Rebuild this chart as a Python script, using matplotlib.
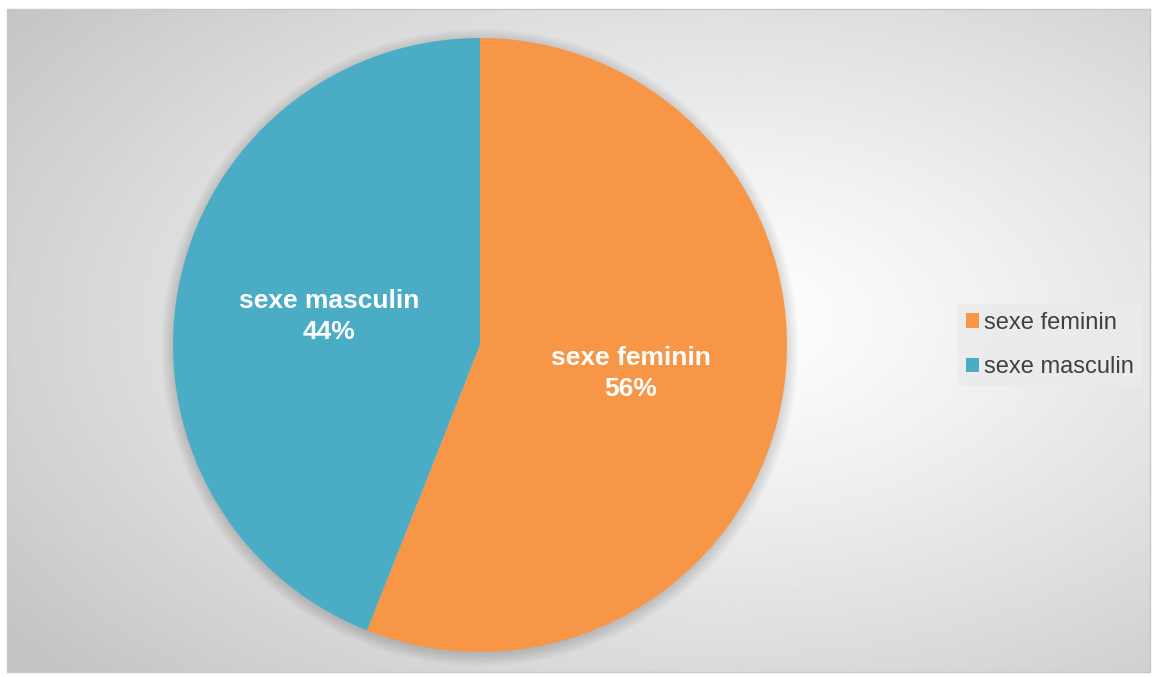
import numpy as np
import matplotlib.pyplot as plt
from matplotlib.patches import Rectangle, Circle

plt.rcParams['font.family'] = ['Liberation Sans', 'DejaVu Sans']

categories = ['sexe feminin', 'sexe masculin']
values = [56, 44]
colors = ['#F79646', '#4BACC6']

W, H = 1154, 677
fig = plt.figure(figsize=(W / 100, H / 100), dpi=100)
fig.patch.set_facecolor('white')

# fond : dégradé radial gris/blanc dans le cadre du graphique
bg = fig.add_axes([7 / W, 1 - 672 / H, (1150 - 7) / W, (672 - 9) / H])
yy, xx = np.mgrid[0:400, 0:700]
cx, cy = 700 * (720 - 7) / 1143, 400 * (320 - 9) / 663
d = np.sqrt(((xx - cx) / 700) ** 2 + ((yy - cy) / 400) ** 2) / 0.78
d = np.clip(d, 0, 1)
img = 1.0 - 0.23 * d ** 1.2
bg.imshow(img, cmap='gray', vmin=0, vmax=1, aspect='auto', interpolation='bilinear')
bg.set_axis_off()
fig.patches.append(Rectangle((7 / W, 1 - 672 / H), 1143 / W, 663 / H,
                             transform=fig.transFigure, fill=False,
                             edgecolor='#c8c8c8', linewidth=1))

r = 307
cxp, cyp = 480, 677 - 345
ax = fig.add_axes([(cxp - r) / W, (cyp - r) / H, 2 * r / W, 2 * r / H])

labels = [f'{c}\n{v}%' for c, v in zip(categories, values)]
wedges, texts = ax.pie(values, colors=colors, startangle=90, counterclock=False,
                       labels=labels, labeldistance=0.5, radius=1,
                       wedgeprops={'linewidth': 0},
                       textprops={'color': 'white', 'fontsize': 19,
                                  'fontweight': 'bold', 'ha': 'center',
                                  'va': 'center', 'multialignment': 'center'})
ax.set_xlim(-1, 1)
ax.set_ylim(-1, 1)
ax.set_aspect('equal')
ax.set_axis_off()

# ombre douce
for i in range(12):
    ax.add_patch(Circle((0.0, -0.008), 1 + 0.0035 * i, color='black',
                        alpha=0.012, lw=0, zorder=0, clip_on=False))
for w in wedges:
    w.set_zorder(2)
for t in texts:
    t.set_zorder(3)
    t.set_linespacing(1.35)

leg = fig.legend(wedges, categories, loc='center left',
                 bbox_to_anchor=(958 / W, 1 - 345 / H),
                 frameon=True, fancybox=False, fontsize=17,
                 handlelength=0.55, handleheight=0.55, handletextpad=0.2,
                 labelspacing=0.95, borderpad=0.35, borderaxespad=0)
leg.get_frame().set_facecolor('#ebebeb')
leg.get_frame().set_edgecolor('none')
leg.get_frame().set_alpha(0.85)
for t in leg.get_texts():
    t.set_color('#404040')

fig.savefig('out.png', dpi=100)
